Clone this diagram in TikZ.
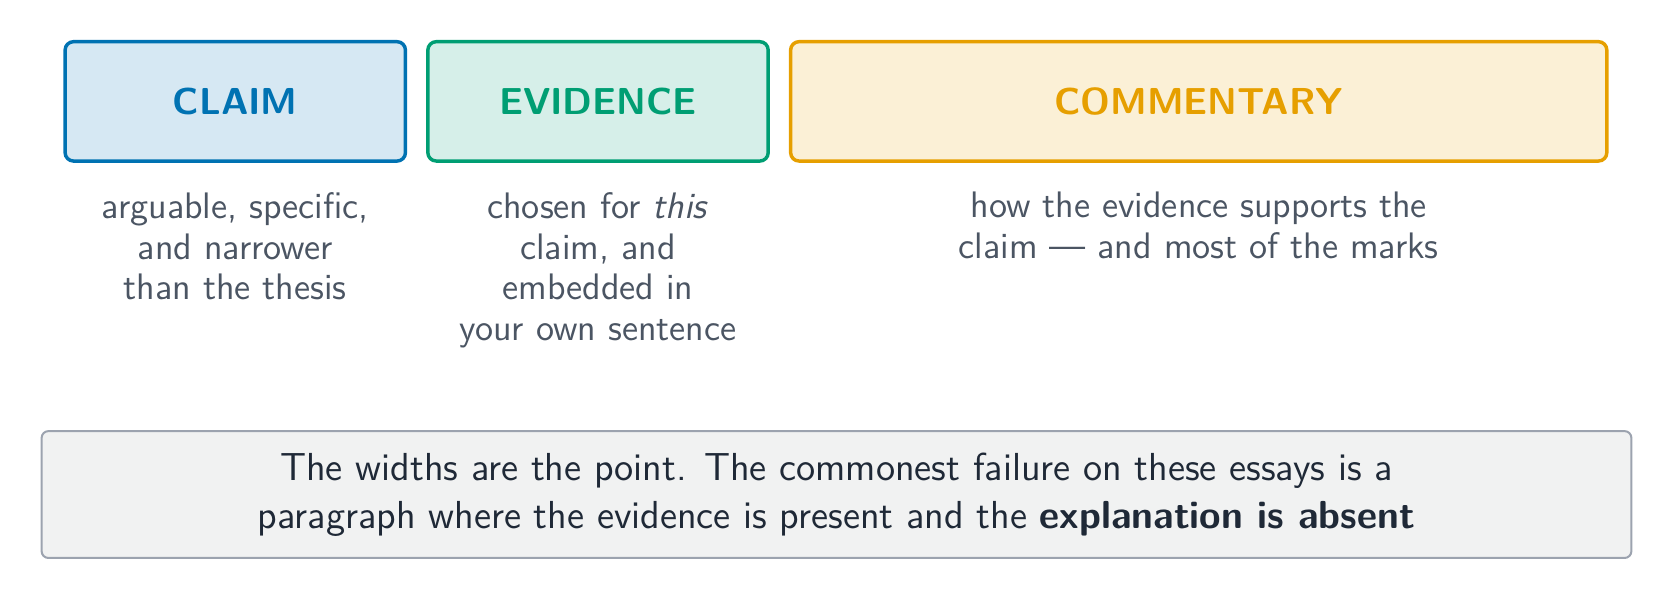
\documentclass[tikz,border=0pt]{standalone}
\usetikzlibrary{positioning}
\renewcommand{\familydefault}{\sfdefault}
\definecolor{claimblue}{HTML}{0072B2}
\definecolor{evidgreen}{HTML}{009E73}
\definecolor{commorange}{HTML}{E69F00}
\definecolor{glosstext}{HTML}{4B5563}
\definecolor{notetext}{HTML}{1F2937}
\definecolor{notedraw}{HTML}{9CA3AF}
\definecolor{notefill}{HTML}{F1F2F2}
\tikzset{
  part/.style={draw=#1, fill=#1!16, text=#1, line width=1.1pt, rounded corners=2.7pt,
    minimum height=38.2pt, font=\fontsize{12}{14}\selectfont\bfseries},
  gloss/.style={text=glosstext, align=center, inner sep=0pt, font=\fontsize{11.8}{13.1}\selectfont},
  note/.style={draw=notedraw, fill=notefill, text=notetext, line width=0.65pt, rounded corners=2.2pt,
    align=center, minimum width=508.7pt, minimum height=40.6pt, font=\fontsize{12.5}{15.3}\selectfont},
}
\begin{document}
\begin{tikzpicture}[x=0.3414pt,y=-0.3414pt]
\useasboundingbox (0,0) rectangle (1568,563);
% the three parts, width as they weigh
\foreach \nm/\x/\w/\c/\t in {claim/220.5/319/claimblue/CLAIM,evidence/560.5/319/evidgreen/EVIDENCE,commentary/1123.5/765/commorange/COMMENTARY}{
    \node[part=\c, minimum width=\w*0.3414pt] (\nm) at (\x,95) {\t};
}
\node[gloss, below=9.2pt of claim] (claimgloss) {arguable, specific,\\and narrower\\than the thesis};
\node[gloss, below=9.2pt of evidence] (evidencegloss) {chosen for \textit{this}\\claim, and\\embedded in\\your own sentence};
\node[gloss, below=9.2pt of commentary] (commentarygloss) {how the evidence supports the\\claim \textemdash{} and most of the marks};
% the moral
\node[note] (widths) at (784,463.5) {The widths are the point. The commonest failure on these essays is a\\paragraph where the evidence is present and the \textbf{explanation is absent}};
\end{tikzpicture}
\end{document}
